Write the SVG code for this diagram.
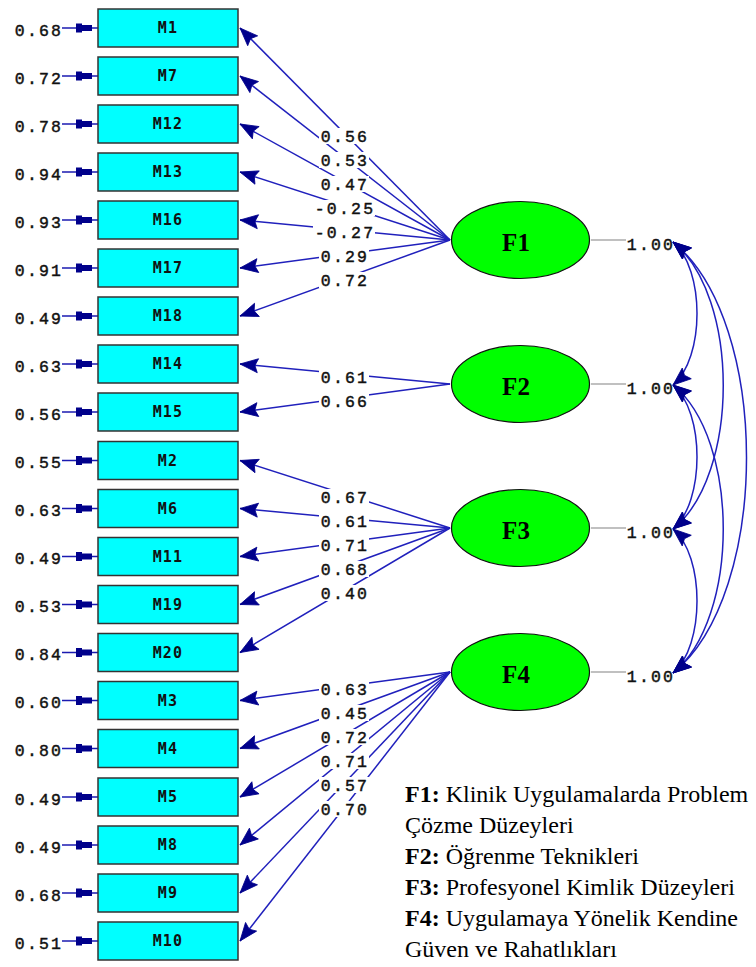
<svg xmlns="http://www.w3.org/2000/svg" width="756" height="967" viewBox="0 0 756 967">
  <style>
    .box { fill: #00ffff; stroke: #333333; stroke-width: 1.5; }
    .lat { fill: #00ff00; stroke: #111111; stroke-width: 1.2; }
    .var { font-family: "DejaVu Sans Mono", "Liberation Mono", monospace; font-weight: bold; font-size: 15px; letter-spacing: 1.2px; fill: #111111; text-anchor: middle; }
    .fac { font-family: "Liberation Serif", "Times New Roman", serif; font-weight: bold; font-size: 25px; fill: #000000; text-anchor: middle; }
    .num { font-family: "Liberation Mono", "DejaVu Sans Mono", monospace; font-size: 16.5px; letter-spacing: 2.2px; fill: #111111; stroke: #111111; stroke-width: 0.45; text-anchor: middle; }
    .gap { fill: #ffffff; }
    .load { stroke: #2020bc; stroke-width: 1.5; fill: none; marker-end: url(#head); }
    .cov { stroke: #2020bc; stroke-width: 1.5; fill: none; marker-start: url(#chead); marker-end: url(#chead); }
    .err { stroke: #1a1ab0; stroke-width: 1.5; }
    .errhead { fill: #00008b; }
    .var1 { stroke: #c0c0c0; stroke-width: 2; }
    .legend { font-family: "Liberation Serif", "Times New Roman", serif; font-size: 24px; fill: #000000; }
    .legend tspan.b { font-weight: bold; }
  </style>
  <defs>
    <marker id="head" markerUnits="userSpaceOnUse" markerWidth="24" markerHeight="18" viewBox="-22 -9 24 18" refX="0" refY="0" orient="auto">
      <path d="M0,0 L-18,-7 L-15,0 L-18,7 Z" fill="#00008b" stroke="#00008b" stroke-width="0.8"/>
    </marker>
    <marker id="chead" markerUnits="userSpaceOnUse" markerWidth="24" markerHeight="18" viewBox="-22 -9 24 18" refX="0" refY="0" orient="auto-start-reverse">
      <path d="M0,0 L-18,-7 L-15,0 L-18,7 Z" fill="#00008b" stroke="#00008b" stroke-width="0.8"/>
    </marker>
  </defs>

  <!-- loadings, error arrows and factor covariances -->
  <g id="connectors">
    <!-- F1 loadings -->
    <path class="load" d="M450,240 L240,28"/>
    <path class="load" d="M450,240 L240,76"/>
    <path class="load" d="M450,240 L240,124"/>
    <path class="load" d="M450,240 L240,172"/>
    <path class="load" d="M450,240 L240,220"/>
    <path class="load" d="M450,240 L240,268"/>
    <path class="load" d="M450,240 L240,316"/>
    <!-- F2 loadings -->
    <path class="load" d="M450,384 L240,364"/>
    <path class="load" d="M450,384 L240,412"/>
    <!-- F3 loadings -->
    <path class="load" d="M450,528 L240,460.5"/>
    <path class="load" d="M450,528 L240,508.5"/>
    <path class="load" d="M450,528 L240,556.5"/>
    <path class="load" d="M450,528 L240,604.5"/>
    <path class="load" d="M450,528 L240,652.5"/>
    <!-- F4 loadings -->
    <path class="load" d="M450,672 L240,700.5"/>
    <path class="load" d="M450,672 L240,748.5"/>
    <path class="load" d="M450,672 L240,797"/>
    <path class="load" d="M450,672 L240,845"/>
    <path class="load" d="M450,672 L240,893"/>
    <path class="load" d="M450,672 L240,941"/>

    <!-- loading values -->
    <g id="loading-values">
      <rect class="gap" x="319" y="128" width="50" height="16"/>
      <rect class="gap" x="319" y="152" width="50" height="16"/>
      <rect class="gap" x="319" y="176" width="50" height="16"/>
      <rect class="gap" x="313" y="200" width="62" height="16"/>
      <rect class="gap" x="313" y="224" width="62" height="16"/>
      <rect class="gap" x="319" y="248" width="50" height="16"/>
      <rect class="gap" x="319" y="272" width="50" height="16"/>
      <text class="num" x="345" y="141.5">0.56</text>
      <text class="num" x="345" y="165.5">0.53</text>
      <text class="num" x="345" y="189.5">0.47</text>
      <text class="num" x="345" y="213.5">-0.25</text>
      <text class="num" x="345" y="237.5">-0.27</text>
      <text class="num" x="345" y="261.5">0.29</text>
      <text class="num" x="345" y="285.5">0.72</text>

      <rect class="gap" x="319" y="369" width="50" height="16"/>
      <rect class="gap" x="319" y="393" width="50" height="16"/>
      <text class="num" x="345" y="382.5">0.61</text>
      <text class="num" x="345" y="406.5">0.66</text>

      <rect class="gap" x="319" y="489" width="50" height="16"/>
      <rect class="gap" x="319" y="513" width="50" height="16"/>
      <rect class="gap" x="319" y="537" width="50" height="16"/>
      <rect class="gap" x="319" y="561" width="50" height="16"/>
      <rect class="gap" x="319" y="585" width="50" height="16"/>
      <text class="num" x="345" y="502.5">0.67</text>
      <text class="num" x="345" y="526.5">0.61</text>
      <text class="num" x="345" y="550.5">0.71</text>
      <text class="num" x="345" y="574.5">0.68</text>
      <text class="num" x="345" y="598.5">0.40</text>

      <rect class="gap" x="319" y="681" width="50" height="16"/>
      <rect class="gap" x="319" y="705" width="50" height="16"/>
      <rect class="gap" x="319" y="729" width="50" height="16"/>
      <rect class="gap" x="319" y="753" width="50" height="16"/>
      <rect class="gap" x="319" y="777" width="50" height="16"/>
      <rect class="gap" x="319" y="801" width="50" height="16"/>
      <text class="num" x="345" y="694.5">0.63</text>
      <text class="num" x="345" y="718.5">0.45</text>
      <text class="num" x="345" y="742.5">0.72</text>
      <text class="num" x="345" y="766.5">0.71</text>
      <text class="num" x="345" y="790.5">0.57</text>
      <text class="num" x="345" y="814.5">0.70</text>
    </g>

    <!-- factor variances -->
    <line class="var1" x1="591" y1="240" x2="626" y2="240"/>
    <line class="var1" x1="591" y1="384" x2="626" y2="384"/>
    <line class="var1" x1="591" y1="528" x2="626" y2="528"/>
    <line class="var1" x1="591" y1="672" x2="626" y2="672"/>
    <text class="num" x="651" y="249.5">1.00</text>
    <text class="num" x="651" y="393.5">1.00</text>
    <text class="num" x="651" y="537.5">1.00</text>
    <text class="num" x="651" y="681.5">1.00</text>

    <!-- factor covariances -->
    <path class="cov" d="M673,242 C705,269 705,358 673,385"/>
    <path class="cov" d="M673,242 C740,296 740,475 673,529"/>
    <path class="cov" d="M673,242 C771,321 771,594 673,673"/>
    <path class="cov" d="M673,385 C705,412 705,502 673,529"/>
    <path class="cov" d="M673,385 C740,439 740,619 673,673"/>
    <path class="cov" d="M673,529 C705,556 705,646 673,673"/>

    <!-- error terms -->
    <g id="errors">
      <line class="err" x1="62" y1="28" x2="98" y2="28"/><path class="errhead" d="M76,23.5 L82,23.5 L82,25 L92,25 L92,31 L82,31 L82,32.5 L76,32.5 Z"/>
      <line class="err" x1="62" y1="76" x2="98" y2="76"/><path class="errhead" d="M76,71.5 L82,71.5 L82,73 L92,73 L92,79 L82,79 L82,80.5 L76,80.5 Z"/>
      <line class="err" x1="62" y1="124" x2="98" y2="124"/><path class="errhead" d="M76,119.5 L82,119.5 L82,121 L92,121 L92,127 L82,127 L82,128.5 L76,128.5 Z"/>
      <line class="err" x1="62" y1="172" x2="98" y2="172"/><path class="errhead" d="M76,167.5 L82,167.5 L82,169 L92,169 L92,175 L82,175 L82,176.5 L76,176.5 Z"/>
      <line class="err" x1="62" y1="220" x2="98" y2="220"/><path class="errhead" d="M76,215.5 L82,215.5 L82,217 L92,217 L92,223 L82,223 L82,224.5 L76,224.5 Z"/>
      <line class="err" x1="62" y1="268" x2="98" y2="268"/><path class="errhead" d="M76,263.5 L82,263.5 L82,265 L92,265 L92,271 L82,271 L82,272.5 L76,272.5 Z"/>
      <line class="err" x1="62" y1="316" x2="98" y2="316"/><path class="errhead" d="M76,311.5 L82,311.5 L82,313 L92,313 L92,319 L82,319 L82,320.5 L76,320.5 Z"/>
      <line class="err" x1="62" y1="364" x2="98" y2="364"/><path class="errhead" d="M76,359.5 L82,359.5 L82,361 L92,361 L92,367 L82,367 L82,368.5 L76,368.5 Z"/>
      <line class="err" x1="62" y1="412" x2="98" y2="412"/><path class="errhead" d="M76,407.5 L82,407.5 L82,409 L92,409 L92,415 L82,415 L82,416.5 L76,416.5 Z"/>
      <line class="err" x1="62" y1="460.5" x2="98" y2="460.5"/><path class="errhead" d="M76,456 L82,456 L82,457.5 L92,457.5 L92,463.5 L82,463.5 L82,465 L76,465 Z"/>
      <line class="err" x1="62" y1="508.5" x2="98" y2="508.5"/><path class="errhead" d="M76,504 L82,504 L82,505.5 L92,505.5 L92,511.5 L82,511.5 L82,513 L76,513 Z"/>
      <line class="err" x1="62" y1="556.5" x2="98" y2="556.5"/><path class="errhead" d="M76,552 L82,552 L82,553.5 L92,553.5 L92,559.5 L82,559.5 L82,561 L76,561 Z"/>
      <line class="err" x1="62" y1="604.5" x2="98" y2="604.5"/><path class="errhead" d="M76,600 L82,600 L82,601.5 L92,601.5 L92,607.5 L82,607.5 L82,609 L76,609 Z"/>
      <line class="err" x1="62" y1="652.5" x2="98" y2="652.5"/><path class="errhead" d="M76,648 L82,648 L82,649.5 L92,649.5 L92,655.5 L82,655.5 L82,657 L76,657 Z"/>
      <line class="err" x1="62" y1="700.5" x2="98" y2="700.5"/><path class="errhead" d="M76,696 L82,696 L82,697.5 L92,697.5 L92,703.5 L82,703.5 L82,705 L76,705 Z"/>
      <line class="err" x1="62" y1="748.5" x2="98" y2="748.5"/><path class="errhead" d="M76,744 L82,744 L82,745.5 L92,745.5 L92,751.5 L82,751.5 L82,753 L76,753 Z"/>
      <line class="err" x1="62" y1="797" x2="98" y2="797"/><path class="errhead" d="M76,792.5 L82,792.5 L82,794 L92,794 L92,800 L82,800 L82,801.5 L76,801.5 Z"/>
      <line class="err" x1="62" y1="845" x2="98" y2="845"/><path class="errhead" d="M76,840.5 L82,840.5 L82,842 L92,842 L92,848 L82,848 L82,849.5 L76,849.5 Z"/>
      <line class="err" x1="62" y1="893" x2="98" y2="893"/><path class="errhead" d="M76,888.5 L82,888.5 L82,890 L92,890 L92,896 L82,896 L82,897.5 L76,897.5 Z"/>
      <line class="err" x1="62" y1="941" x2="98" y2="941"/><path class="errhead" d="M76,936.5 L82,936.5 L82,938 L92,938 L92,944 L82,944 L82,945.5 L76,945.5 Z"/>
      <text class="num" x="39" y="35.5">0.68</text>
      <text class="num" x="39" y="83.5">0.72</text>
      <text class="num" x="39" y="131.5">0.78</text>
      <text class="num" x="39" y="179.5">0.94</text>
      <text class="num" x="39" y="227.5">0.93</text>
      <text class="num" x="39" y="275.5">0.91</text>
      <text class="num" x="39" y="323.5">0.49</text>
      <text class="num" x="39" y="371.5">0.63</text>
      <text class="num" x="39" y="419.5">0.56</text>
      <text class="num" x="39" y="468">0.55</text>
      <text class="num" x="39" y="516">0.63</text>
      <text class="num" x="39" y="564">0.49</text>
      <text class="num" x="39" y="612">0.53</text>
      <text class="num" x="39" y="660">0.84</text>
      <text class="num" x="39" y="708">0.60</text>
      <text class="num" x="39" y="756">0.80</text>
      <text class="num" x="39" y="804.5">0.49</text>
      <text class="num" x="39" y="852.5">0.49</text>
      <text class="num" x="39" y="900.5">0.68</text>
      <text class="num" x="39" y="948.5">0.51</text>
    </g>
  </g>

  <!-- observed variables -->
  <g id="M1"><rect class="box" x="98" y="9" width="140" height="38"/><text class="var" x="168" y="33">M1</text></g>
  <g id="M7"><rect class="box" x="98" y="57" width="140" height="38"/><text class="var" x="168" y="81">M7</text></g>
  <g id="M12"><rect class="box" x="98" y="105" width="140" height="38"/><text class="var" x="168" y="129">M12</text></g>
  <g id="M13"><rect class="box" x="98" y="153" width="140" height="38"/><text class="var" x="168" y="177">M13</text></g>
  <g id="M16"><rect class="box" x="98" y="201" width="140" height="38"/><text class="var" x="168" y="225">M16</text></g>
  <g id="M17"><rect class="box" x="98" y="249" width="140" height="38"/><text class="var" x="168" y="273">M17</text></g>
  <g id="M18"><rect class="box" x="98" y="297" width="140" height="38"/><text class="var" x="168" y="321">M18</text></g>
  <g id="M14"><rect class="box" x="98" y="345" width="140" height="38"/><text class="var" x="168" y="369">M14</text></g>
  <g id="M15"><rect class="box" x="98" y="393" width="140" height="38"/><text class="var" x="168" y="417">M15</text></g>
  <g id="M2"><rect class="box" x="98" y="441.5" width="140" height="38"/><text class="var" x="168" y="465.5">M2</text></g>
  <g id="M6"><rect class="box" x="98" y="489.5" width="140" height="38"/><text class="var" x="168" y="513.5">M6</text></g>
  <g id="M11"><rect class="box" x="98" y="537.5" width="140" height="38"/><text class="var" x="168" y="561.5">M11</text></g>
  <g id="M19"><rect class="box" x="98" y="585.5" width="140" height="38"/><text class="var" x="168" y="609.5">M19</text></g>
  <g id="M20"><rect class="box" x="98" y="633.5" width="140" height="38"/><text class="var" x="168" y="657.5">M20</text></g>
  <g id="M3"><rect class="box" x="98" y="681.5" width="140" height="38"/><text class="var" x="168" y="705.5">M3</text></g>
  <g id="M4"><rect class="box" x="98" y="729.5" width="140" height="38"/><text class="var" x="168" y="753.5">M4</text></g>
  <g id="M5"><rect class="box" x="98" y="778" width="140" height="38"/><text class="var" x="168" y="802">M5</text></g>
  <g id="M8"><rect class="box" x="98" y="826" width="140" height="38"/><text class="var" x="168" y="850">M8</text></g>
  <g id="M9"><rect class="box" x="98" y="874" width="140" height="38"/><text class="var" x="168" y="898">M9</text></g>
  <g id="M10"><rect class="box" x="98" y="922" width="140" height="38"/><text class="var" x="168" y="946">M10</text></g>

  <!-- latent factors -->
  <g id="F1"><ellipse class="lat" cx="520.5" cy="240" rx="69" ry="38.5"/><text class="fac" x="516" y="251">F1</text></g>
  <g id="F2"><ellipse class="lat" cx="520.5" cy="384" rx="69" ry="38.5"/><text class="fac" x="516" y="395">F2</text></g>
  <g id="F3"><ellipse class="lat" cx="520.5" cy="528" rx="69" ry="38.5"/><text class="fac" x="516" y="539">F3</text></g>
  <g id="F4"><ellipse class="lat" cx="520.5" cy="672" rx="69" ry="38.5"/><text class="fac" x="516" y="683">F4</text></g>

  <!-- factor legend -->
  <g id="legend" class="legend">
    <text x="405" y="802"><tspan class="b">F1:</tspan> Klinik Uygulamalarda Problem</text>
    <text x="405" y="833">Çözme Düzeyleri</text>
    <text x="405" y="864"><tspan class="b">F2:</tspan> Öğrenme Teknikleri</text>
    <text x="405" y="895"><tspan class="b">F3:</tspan> Profesyonel Kimlik Düzeyleri</text>
    <text x="405" y="926"><tspan class="b">F4:</tspan> Uygulamaya Yönelik Kendine</text>
    <text x="405" y="957">Güven ve Rahatlıkları</text>
  </g>
</svg>
